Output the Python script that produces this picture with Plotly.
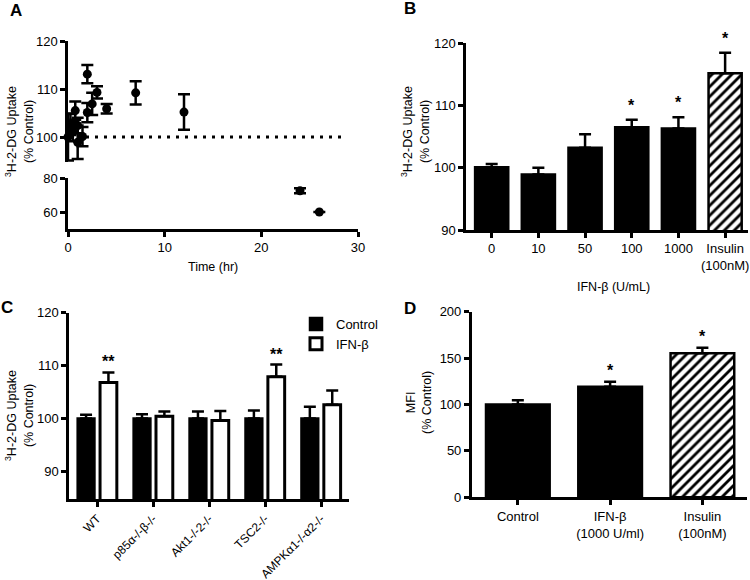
import plotly.graph_objects as go

W, H = 750, 580
FONT = "Arial, Liberation Sans, Helvetica, sans-serif"

# ---------------- Panel A data ----------------
time_hr = [0, 0.25, 0.5, 0.75, 1, 1, 1.5, 2, 2, 2.5, 3, 4, 7, 12]
uptake_a = [100, 102.6, 101.1, 105.5, 102.4, 98.9, 100.1, 113.1, 105.1, 106.9, 109.3, 105.9, 109.2, 105.2]
err_a = [4.9, 2.2, 2.0, 1.9, 1.6, 3.5, 2.0, 1.9, 2.0, 2.3, 1.3, 1.0, 2.4, 3.7]
time_late = [24, 26]
uptake_late = [72.5, 60]
err_late = [1.5, 0]
baseline_x = [0, 28.5]
baseline_y = [100, 100]

# ---------------- Panel B data ----------------
doses_b = ["0", "10", "50", "100", "1000", "Insulin<br>(100nM)"]
uptake_b = [100.1, 98.9, 103.2, 106.5, 106.3, 115.2]
err_b = [0.5, 1.1, 2.2, 1.2, 1.8, 3.3]
hatch_b = ["", "", "", "", "", "/"]
stars_b = ["", "", "", "*", "*", "*"]

# ---------------- Panel C data ----------------
genotypes_c = ["WT", "p85α-/-β-/-", "Akt1-/-2-/-", "TSC2-/-", "AMPKα1-/-α2-/-"]
control_c = [100.0, 100.0, 100.0, 100.0, 100.0]
control_err_c = [0.7, 0.8, 1.3, 1.5, 2.2]
ifn_c = [106.8, 100.4, 99.6, 107.9, 102.6]
ifn_err_c = [1.9, 0.9, 1.8, 2.3, 2.7]
stars_c = ["**", "", "", "**", ""]

# ---------------- Panel D data ----------------
treat_d = ["Control", "IFN-β<br>(1000 U/ml)", "Insulin<br>(100nM)"]
mfi_d = [100.0, 119.2, 155.2]
err_d = [4.6, 5.4, 6.0]
hatch_d = ["", "", "/"]
stars_d = ["", "*", "*"]


def px_x(x):
    return x / W


def px_y(y):
    return 1 - y / H


LW = 2.5
axis_common = dict(showline=True, linewidth=LW, linecolor="black", ticks="outside",
                   ticklen=5, tickwidth=LW, tickcolor="black", showgrid=False,
                   zeroline=False, tickfont=dict(family=FONT, size=13, color="black"),
                   fixedrange=True, automargin=False)

fig = go.Figure()

# ----- Panel A -----
fig.add_trace(go.Scatter(x=baseline_x, y=baseline_y, mode="lines", xaxis="x", yaxis="y",
                         line=dict(color="black", width=3, dash="3px,6px"),
                         showlegend=False, hoverinfo="skip"))
fig.add_trace(go.Scatter(x=time_hr, y=uptake_a, mode="markers", xaxis="x", yaxis="y",
                         marker=dict(color="black", size=9),
                         error_y=dict(type="data", array=err_a, visible=True, color="black",
                                      thickness=LW, width=6),
                         cliponaxis=False, showlegend=False))
fig.add_trace(go.Scatter(x=time_late, y=uptake_late, mode="markers", xaxis="x", yaxis="y2",
                         marker=dict(color="black", size=9),
                         error_y=dict(type="data", array=err_late, visible=True, color="black",
                                      thickness=LW, width=6),
                         cliponaxis=False, showlegend=False))

# ----- Panel B -----
fig.add_trace(go.Bar(x=doses_b, y=uptake_b, xaxis="x2", yaxis="y3", width=0.71,
                     marker=dict(color="black", line=dict(color="black", width=LW),
                                 pattern=dict(shape=hatch_b, fgcolor="black", bgcolor="white",
                                              size=7, solidity=0.4, fillmode="replace")),
                     error_y=dict(type="data", symmetric=False, array=err_b,
                                  arrayminus=[0] * len(err_b), color="black",
                                  thickness=LW, width=6),
                     cliponaxis=False, showlegend=False))

# ----- Panel C -----
fig.add_trace(go.Bar(x=genotypes_c, y=control_c, xaxis="x3", yaxis="y4", name="Control",
                     width=0.30, offset=-0.35,
                     marker=dict(color="black", line=dict(color="black", width=LW)),
                     error_y=dict(type="data", symmetric=False, array=control_err_c,
                                  arrayminus=[0] * 5, color="black", thickness=LW, width=6),
                     cliponaxis=False, showlegend=True))
fig.add_trace(go.Bar(x=genotypes_c, y=ifn_c, xaxis="x3", yaxis="y4", name="IFN-β",
                     width=0.30, offset=0.05,
                     marker=dict(color="white", line=dict(color="black", width=3)),
                     error_y=dict(type="data", symmetric=False, array=ifn_err_c,
                                  arrayminus=[0] * 5, color="black", thickness=LW, width=6),
                     cliponaxis=False, showlegend=True))

# ----- Panel D -----
fig.add_trace(go.Bar(x=treat_d, y=mfi_d, xaxis="x4", yaxis="y5", width=0.69,
                     marker=dict(color="black", line=dict(color="black", width=LW),
                                 pattern=dict(shape=hatch_d, fgcolor="black", bgcolor="white",
                                              size=7, solidity=0.4, fillmode="replace")),
                     error_y=dict(type="data", symmetric=False, array=err_d,
                                  arrayminus=[0] * len(err_d), color="black",
                                  thickness=LW, width=6),
                     cliponaxis=False, showlegend=False))

layout = dict(
    template="none",
    width=W, height=H, autosize=False,
    margin=dict(l=0, r=0, t=0, b=0, pad=0, autoexpand=False),
    paper_bgcolor="white", plot_bgcolor="rgba(0,0,0,0)",
    barmode="overlay",
    font=dict(family=FONT, size=13, color="black"),
    legend=dict(x=px_x(296), y=px_y(309), xanchor="left", yanchor="top",
                font=dict(family=FONT, size=13, color="black"),
                bgcolor="rgba(0,0,0,0)", tracegroupgap=4, itemwidth=30),
    # Panel A
    xaxis=dict(axis_common, domain=[px_x(68), px_x(358)], range=[0, 30],
               tickvals=[0, 10, 20, 30], anchor="y2"),
    yaxis=dict(axis_common, domain=[px_y(162), px_y(41)], range=[94.8, 120],
               tickvals=[100, 110, 120], anchor="x"),
    yaxis2=dict(axis_common, domain=[px_y(229), px_y(178)], range=[50, 80],
                tickvals=[60, 80], anchor="x"),
    # Panel B
    xaxis2=dict(axis_common, type="category", domain=[px_x(466), px_x(748)],
                range=[-0.55, 5.49], anchor="y3"),
    yaxis3=dict(axis_common, domain=[px_y(230), px_y(43.3)], range=[90, 120],
                tickvals=[90, 100, 110, 120], anchor="x2"),
    # Panel C
    xaxis3=dict(axis_common, type="category", domain=[px_x(69), px_x(349)],
                range=[-0.505, 4.5], anchor="y4", tickangle=-45,
                tickfont=dict(family=FONT, size=12, color="black")),
    yaxis4=dict(axis_common, domain=[px_y(499.3), px_y(312.7)], range=[84.7, 120],
                tickvals=[90, 100, 110, 120], anchor="x3"),
    # Panel D
    xaxis4=dict(axis_common, type="category", domain=[px_x(471.7), px_x(746.7)],
                range=[-0.5, 2.48], anchor="y5"),
    yaxis5=dict(axis_common, domain=[px_y(497.3), px_y(311.7)], range=[0, 200],
                tickvals=[0, 50, 100, 150, 200], anchor="x4"),
)
fig.update_layout(**layout)

ann = []
title_font = dict(family=FONT, size=12.5, color="black")
ytitle = "<sup>3</sup>H-2-DG Uptake<br>(% Control)"


def text_ann(text, x, y, angle=0, font=title_font):
    return dict(text=text, x=px_x(x), y=px_y(y), xref="paper", yref="paper",
                xanchor="center", yanchor="middle", textangle=angle,
                showarrow=False, font=font)


ann.append(text_ann(ytitle, 19, 132, -90))
ann.append(text_ann(ytitle, 415, 132, -90))
ann.append(text_ann(ytitle, 19, 416, -90))
ann.append(text_ann("MFI<br>(% Control)", 419, 403, -90))
ann.append(text_ann("Time (hr)", 213, 267))
ann.append(text_ann("IFN-β (U/mL)", 613, 287))

label_font = dict(family=FONT, size=17, color="black")
for lab, lx, ly in [("A", 15.5, 11), ("B", 409.5, 9), ("C", 6.5, 307.5), ("D", 409.5, 308)]:
    ann.append(text_ann("<b>%s</b>" % lab, lx, ly, 0, label_font))

star_font = dict(family=FONT, size=16, color="black")
for i, (v, e, s) in enumerate(zip(uptake_b, err_b, stars_b)):
    if s:
        ann.append(dict(text="<b>%s</b>" % s, x=i, y=v + e, xref="x2", yref="y3",
                        xanchor="center", yanchor="bottom", yshift=4, showarrow=False,
                        font=star_font))
for i, (v, e, s) in enumerate(zip(ifn_c, ifn_err_c, stars_c)):
    if s:
        ann.append(dict(text="<b>%s</b>" % s, x=i + 0.2, y=v + e, xref="x3", yref="y4",
                        xanchor="center", yanchor="bottom", yshift=0, showarrow=False,
                        font=star_font))
for i, (v, e, s) in enumerate(zip(mfi_d, err_d, stars_d)):
    if s:
        ann.append(dict(text="<b>%s</b>" % s, x=i, y=v + e, xref="x4", yref="y5",
                        xanchor="center", yanchor="bottom", yshift=1, showarrow=False,
                        font=star_font))

fig.update_layout(annotations=ann)

fig.write_html("out.html", config={"displayModeBar": False},
               post_script="document.body.style.margin='0px';")
